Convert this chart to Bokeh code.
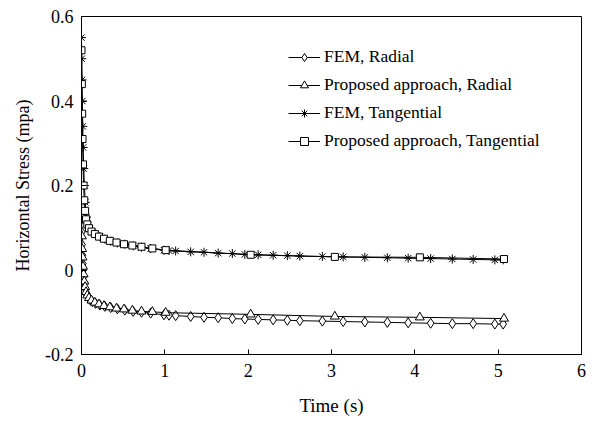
from bokeh.plotting import figure
from bokeh.models import Range1d, FixedTicker, CustomJSTickFormatter, Legend, LegendItem
from bokeh.embed import file_html
from bokeh.resources import INLINE

# ---- data ----
fem_t = [0.0, 0.003, 0.006, 0.01, 0.015, 0.02, 0.027, 0.035, 0.045, 0.06, 0.08, 0.1,
         0.13, 0.17, 0.22, 0.28, 0.35, 0.43, 0.52, 0.62, 0.72, 0.83, 0.99, 1.05, 1.13,
         1.31, 1.47, 1.64, 1.81, 1.96, 2.12, 2.30, 2.47, 2.62, 2.89, 3.14, 3.40, 3.67,
         3.92, 4.19, 4.45, 4.70, 4.96, 5.06]
fem_radial = [0.12, 0.09, 0.06, 0.035, 0.015, 0.0, -0.015, -0.03, -0.045, -0.058, -0.065, -0.07,
              -0.075, -0.079, -0.083, -0.086, -0.089, -0.092, -0.095, -0.098, -0.100, -0.102, -0.106, -0.107, -0.108,
              -0.110, -0.112, -0.113, -0.115, -0.116, -0.117, -0.118, -0.119, -0.120, -0.121, -0.122, -0.123, -0.124,
              -0.125, -0.126, -0.127, -0.127, -0.128, -0.128]
fem_tangential = [0.55, 0.50, 0.45, 0.40, 0.34, 0.29, 0.24, 0.20, 0.16, 0.125, 0.105, 0.097,
                  0.09, 0.085, 0.079, 0.073, 0.068, 0.064, 0.061, 0.057, 0.054, 0.051, 0.047, 0.046, 0.045,
                  0.043, 0.042, 0.040, 0.039, 0.037, 0.036, 0.035, 0.034, 0.033, 0.032, 0.031, 0.030, 0.029,
                  0.028, 0.027, 0.026, 0.025, 0.024, 0.024]

prop_t = [0.0, 0.004, 0.008, 0.012, 0.018, 0.025, 0.033, 0.043, 0.055, 0.07, 0.09, 0.12,
          0.16, 0.21, 0.27, 0.34, 0.42, 0.51, 0.61, 0.72, 0.85, 1.01, 2.03, 3.04, 4.06, 5.07]
prop_radial = [0.13, 0.08, 0.05, 0.03, 0.008, -0.01, -0.027, -0.04, -0.052, -0.06, -0.066, -0.072,
               -0.077, -0.081, -0.085, -0.088, -0.091, -0.093, -0.096, -0.098, -0.099, -0.101,
               -0.105, -0.110, -0.112, -0.115]
prop_tangential = [0.52, 0.44, 0.37, 0.31, 0.25, 0.20, 0.165, 0.14, 0.12, 0.108, 0.099, 0.091,
                   0.085, 0.079, 0.074, 0.069, 0.065, 0.061, 0.058, 0.055, 0.051, 0.047,
                   0.036, 0.031, 0.030, 0.026]

x_ticks = [0, 1, 2, 3, 4, 5, 6]
y_ticks = [-0.2, 0, 0.2, 0.4, 0.6]

FONT = "Liberation Serif"

p = figure(width=592, height=425, output_backend="svg", toolbar_location=None,
           x_range=Range1d(0, 6), y_range=Range1d(-0.2, 0.6),
           min_border_left=81, min_border_right=11, min_border_top=16, min_border_bottom=71)
p.background_fill_color = "white"
p.border_fill_color = "white"
p.outline_line_color = "black"
p.outline_line_width = 1
p.xgrid.visible = False
p.ygrid.visible = False

for ax in (p.xaxis[0], p.yaxis[0]):
    ax.axis_line_color = "black"
    ax.major_tick_line_color = "black"
    ax.minor_tick_line_color = None
    ax.major_tick_in = 5
    ax.major_tick_out = 0
    ax.major_label_text_font = FONT
    ax.major_label_text_font_size = "18px"
    ax.major_label_text_color = "black"
    ax.axis_label_text_font = FONT
    ax.axis_label_text_font_style = "normal"
    ax.axis_label_text_color = "black"

p.xaxis.axis_label_text_font_size = "19px"
p.yaxis.axis_label_text_font_size = "18px"
p.xaxis.ticker = FixedTicker(ticks=x_ticks)
p.yaxis.ticker = FixedTicker(ticks=y_ticks)
p.xaxis.formatter = CustomJSTickFormatter(code="return Math.round(tick).toString();")
p.yaxis.formatter = CustomJSTickFormatter(code="return Math.abs(tick) < 1e-9 ? '0' : tick.toFixed(1);")
p.xaxis.axis_label = "Time (s)"
p.yaxis.axis_label = "Horizontal Stress (mpa)"
p.xaxis.major_label_standoff = 9
p.yaxis.major_label_standoff = 8
p.xaxis.axis_label_standoff = 15
p.yaxis.axis_label_standoff = 9

items = []
l1 = p.line(fem_t, fem_radial, line_color="black", line_width=1)
m1 = p.scatter(fem_t, fem_radial, marker="diamond", size=10, line_color="black",
               fill_color="white", line_width=1)
items.append(LegendItem(label="FEM, Radial", renderers=[l1, m1]))

l2 = p.line(prop_t, prop_radial, line_color="black", line_width=1)
m2 = p.scatter(prop_t, prop_radial, marker="triangle", size=9, line_color="black",
               fill_color="white", line_width=1)
items.append(LegendItem(label="Proposed approach, Radial", renderers=[l2, m2]))

l3 = p.line(fem_t, fem_tangential, line_color="black", line_width=1)
m3 = p.scatter(fem_t, fem_tangential, marker="asterisk", size=9, line_color="black", line_width=1)
items.append(LegendItem(label="FEM, Tangential", renderers=[l3, m3]))

l4 = p.line(prop_t, prop_tangential, line_color="black", line_width=1)
m4 = p.scatter(prop_t, prop_tangential, marker="square", size=7, line_color="black",
               fill_color="white", line_width=1)
items.append(LegendItem(label="Proposed approach, Tangential", renderers=[l4, m4]))

legend = Legend(items=items, location=(207, 203), orientation="vertical")
legend.border_line_color = None
legend.background_fill_alpha = 0
legend.padding = 0
legend.margin = 0
legend.spacing = 7
legend.label_height = 20
legend.glyph_height = 20
legend.glyph_width = 32
legend.label_standoff = 4
legend.label_text_font = FONT
legend.label_text_font_size = "17.5px"
legend.label_text_color = "black"
p.add_layout(legend)

open("out.html", "w").write(file_html(p, INLINE))
